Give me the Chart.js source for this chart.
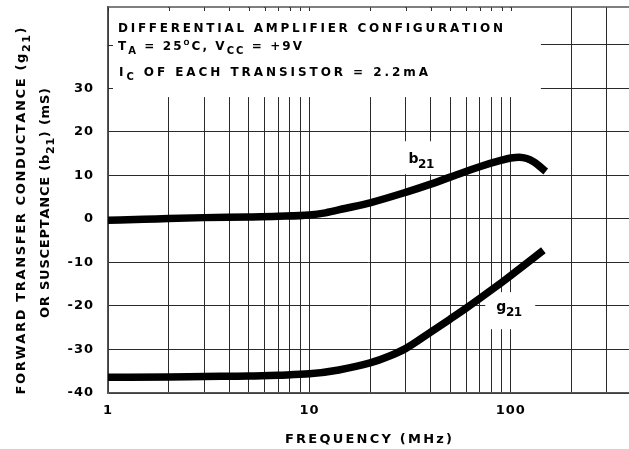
<!DOCTYPE html>
<html>
<head>
<meta charset="utf-8">
<script src="https://cdn.jsdelivr.net/npm/chart.js@4"></script>
<style>
  html, body { margin: 0; padding: 0; background: #fff; }
</style>
</head>
<body>
<canvas id="myChart" width="629" height="449"></canvas>
<script>
// values (frequency in MHz, value in mS)
const freqB = [1, 1.5, 2, 3, 5, 7, 10, 12, 15, 20, 30, 40, 50, 70, 90, 100, 110, 120, 130, 149];
const b21 =   [-0.3, -0.1, 0.1, 0.3, 0.45, 0.6, 0.9, 1.4, 2.4, 3.7, 6.1, 8.0, 9.6, 12.0, 13.5, 14.0, 14.2, 13.9, 13.1, 10.9];

const freqG = [1, 2, 3, 5, 7, 10, 14, 20, 25, 30, 40, 50, 60, 70, 90, 100, 145];
const g21 =   [-36.4, -36.3, -36.2, -36.1, -35.9, -35.6, -34.7, -33.1, -31.5, -29.8, -26.0, -23.0, -20.5, -18.3, -14.6, -13.0, -7.2];

// grid / tick values
const xGrid = [1, 2, 3, 4, 5, 6, 7, 8, 9, 10, 20, 30, 40, 50, 60, 70, 80, 90, 100, 200, 300];
const xLabels = [1, 10, 100];
const yGrid = [-40, -30, -20, -10, 0, 10, 20, 30, 40];
const yLabels = [-40, -30, -20, -10, 0, 10, 20, 30];

const FONT = '"DejaVu Sans", sans-serif';
const GRID = '#2a2a2a';

// draws text made of parts ({t, sub, sup}) one char at a time, spread to a width
function drawRich(ctx, parts, x, y, size, width, align) {
  const fontOf = p => 'bold ' + Math.round(p.sub ? size * 0.85 : p.sup ? size * 0.62 : size) + 'px ' + FONT;
  let natural = 0, n = 0;
  for (const p of parts) {
    ctx.font = fontOf(p);
    for (const ch of p.t) { natural += ctx.measureText(ch).width; n++; }
  }
  const sp = width ? (width - natural) / (n - 1) : 0;
  const total = natural + sp * (n - 1);
  let cx = align === 'center' ? x - total / 2 : x;
  ctx.textBaseline = 'alphabetic';
  ctx.textAlign = 'left';
  for (const p of parts) {
    ctx.font = fontOf(p);
    const dy = p.sub ? size * 0.36 : p.sup ? -size * 0.42 : 0;
    for (const ch of p.t) {
      ctx.fillText(ch, cx, y + dy);
      cx += ctx.measureText(ch).width + sp;
    }
  }
}

const sheet = {
  id: 'sheet',
  beforeDraw(chart) {
    chart.ctx.letterSpacing = '1px';
  },
  beforeDatasetsDraw(chart) {
    const {ctx, chartArea: a, scales: {x, y}} = chart;
    ctx.save();
    ctx.letterSpacing = '0px';
    // white annotation box in the upper left
    const bx = x.getPixelForValue(141);
    const by = y.getPixelForValue(28);
    ctx.fillStyle = '#fff';
    ctx.fillRect(a.left + 1, a.top + 1, bx - a.left - 1, by - a.top - 1);

    // short stubs where the grid is hidden by the box
    ctx.strokeStyle = GRID;
    ctx.lineWidth = 1;
    ctx.beginPath();
    for (const v of xGrid) {
      const px = Math.round(x.getPixelForValue(v)) + 0.5;
      if (px < bx) { ctx.moveTo(px, a.top); ctx.lineTo(px, a.top + 4); }
    }
    for (const v of yGrid) {
      const py = Math.round(y.getPixelForValue(v)) + 0.5;
      if (py < by) { ctx.moveTo(a.left, py); ctx.lineTo(a.left + 5, py); }
    }
    ctx.stroke();

    // top frame line
    ctx.strokeStyle = '#555';
    ctx.lineWidth = 1.5;
    ctx.beginPath();
    ctx.moveTo(a.left, a.top);
    ctx.lineTo(a.right, a.top);
    ctx.stroke();

    ctx.fillStyle = '#000';
    drawRich(ctx, [{t: 'DIFFERENTIAL AMPLIFIER CONFIGURATION'}], a.left + 10, 32, 12, 385);
    drawRich(ctx, [{t: 'T'}, {t: 'A', sub: true}, {t: ' = 25'}, {t: 'O', sup: true}, {t: 'C, V'},
                   {t: 'CC', sub: true}, {t: ' = +9V'}], a.left + 10, 50, 12, 184);
    drawRich(ctx, [{t: 'I'}, {t: 'C', sub: true}, {t: ' OF EACH TRANSISTOR = 2.2mA'}], a.left + 11, 76, 12, 309);

    // curve labels with white backing
    const lb = {x: x.getPixelForValue(31), y: y.getPixelForValue(12.8)};
    ctx.fillStyle = '#fff';
    ctx.fillRect(lb.x - 8, lb.y - 22, 44, 33);
    const lg = {x: x.getPixelForValue(84.6), y: y.getPixelForValue(-21.2)};
    ctx.fillRect(lg.x - 11, lg.y - 19, 50, 37);
    ctx.fillStyle = '#000';
    drawRich(ctx, [{t: 'b'}, {t: '21', sub: true}], lb.x, lb.y, 14, 26);
    drawRich(ctx, [{t: 'g'}, {t: '21', sub: true}], lg.x, lg.y, 14, 26);
    ctx.restore();
  },
  afterDraw(chart) {
    const {ctx, chartArea: a} = chart;
    ctx.save();
    ctx.letterSpacing = '0px';
    ctx.fillStyle = '#000';
    // x axis title
    drawRich(ctx, [{t: 'FREQUENCY (MHz)'}], (a.left + a.right) / 2, 443, 13, 167, 'center');
    // y axis title, two rotated lines
    ctx.translate(25, 211);
    ctx.rotate(-Math.PI / 2);
    drawRich(ctx, [{t: 'FORWARD TRANSFER CONDUCTANCE (g'}, {t: '21', sub: true}, {t: ')'}], 0, 0, 13, 367, 'center');
    ctx.restore();
    ctx.save();
    ctx.letterSpacing = '0px';
    ctx.fillStyle = '#000';
    ctx.translate(49, 203);
    ctx.rotate(-Math.PI / 2);
    drawRich(ctx, [{t: 'OR SUSCEPTANCE (b'}, {t: '21', sub: true}, {t: ') (mS)'}], 0, 0, 13, 230, 'center');
    ctx.restore();
  }
};

Chart.defaults.font.family = FONT;
Chart.defaults.font.weight = 'bold';
Chart.defaults.font.size = 13;
Chart.defaults.color = '#000';

const lineStyle = {
  borderColor: '#000',
  borderWidth: 7.5,
  pointRadius: 0,
  fill: false,
  borderCapStyle: 'butt',
  cubicInterpolationMode: 'monotone'
};

const config = {
  type: 'line',
  data: {
    datasets: [
      Object.assign({label: 'b21', data: freqB.map((f, i) => ({x: f, y: b21[i]}))}, lineStyle),
      Object.assign({label: 'g21', data: freqG.map((f, i) => ({x: f, y: g21[i]}))}, lineStyle)
    ]
  },
  options: {
    responsive: false,
    animation: false,
    layout: {padding: {top: 7, right: 0, left: 0, bottom: 0}},
    plugins: {legend: {display: false}, tooltip: {enabled: false}},
    scales: {
      x: {
        type: 'logarithmic',
        min: 1,
        max: 386,
        afterBuildTicks: s => { s.ticks = xGrid.map(v => ({value: v})); },
        afterFit: s => { s.height = 56; s.paddingLeft = 0; s.paddingRight = 0; },
        ticks: {
          autoSkip: false,
          maxRotation: 0,
          padding: 10,
          callback: v => xLabels.includes(v) ? String(v) : ''
        },
        grid: {color: GRID, lineWidth: 1, drawTicks: false},
        border: {color: '#555', width: 1.5}
      },
      y: {
        min: -40,
        max: 48.7,
        afterBuildTicks: s => { s.ticks = yGrid.map(v => ({value: v})); },
        afterFit: s => { s.width = 108; s.paddingTop = 0; s.paddingBottom = 0; },
        ticks: {
          padding: 14,
          callback: v => yLabels.includes(v) ? String(v) : ''
        },
        grid: {color: GRID, lineWidth: 1, drawTicks: false},
        border: {color: '#555', width: 1.5}
      }
    }
  },
  plugins: [sheet]
};

const myChart = new Chart(document.getElementById('myChart'), config);
</script>
</body>
</html>
